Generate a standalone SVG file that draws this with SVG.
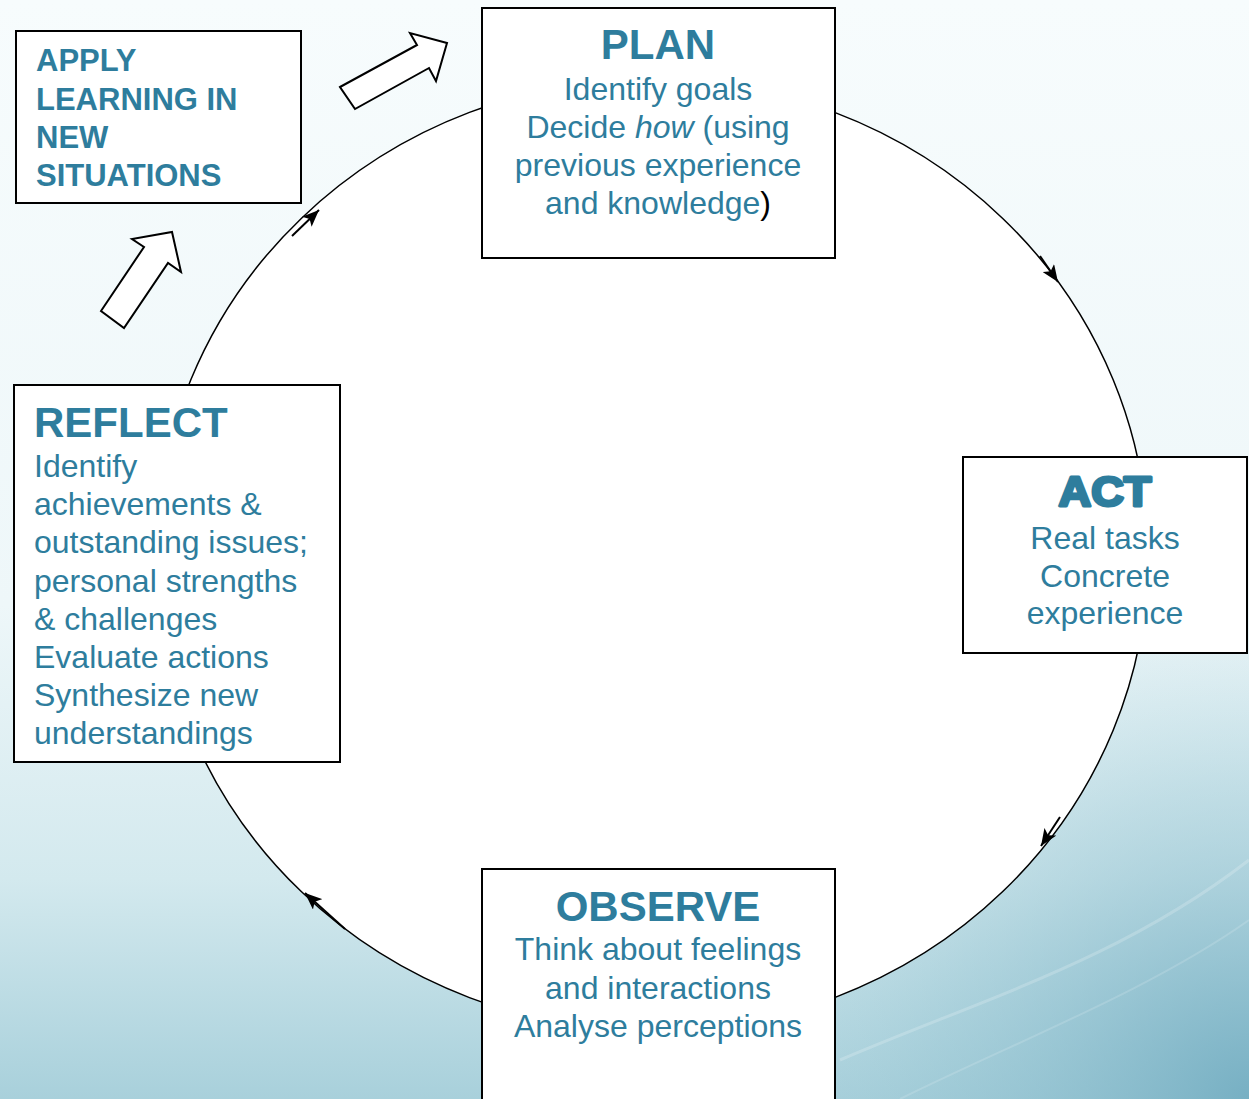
<svg xmlns="http://www.w3.org/2000/svg" width="1249" height="1099" viewBox="0 0 1249 1099">
<defs>
  <linearGradient id="bg" x1="0" y1="0" x2="0" y2="1">
    <stop offset="0" stop-color="#f7fcfd"/>
    <stop offset="0.55" stop-color="#eef7f9"/>
    <stop offset="0.8" stop-color="#d3e9ee"/>
    <stop offset="1" stop-color="#a8d0db"/>
  </linearGradient>
  <radialGradient id="br" cx="1249" cy="1099" r="520" gradientUnits="userSpaceOnUse">
    <stop offset="0" stop-color="#6eaabf" stop-opacity="0.85"/>
    <stop offset="0.6" stop-color="#8fc0cf" stop-opacity="0.35"/>
    <stop offset="1" stop-color="#b0d5df" stop-opacity="0"/>
  </radialGradient>
  <marker id="ah" markerUnits="userSpaceOnUse" markerWidth="18" markerHeight="14" refX="17" refY="7" orient="auto">
    <path d="M0,0 L17,7 L0,14 L4,7 z" fill="#000"/>
  </marker>
  <style>
    .box{fill:#fff;stroke:#000;stroke-width:2}
    .t{font-family:"Liberation Sans",Arial,sans-serif;fill:#2e7d9d}
    .h{font-weight:bold;font-size:42px}
    .b{font-size:32px}
    .c{text-anchor:middle}
    .blk{fill:#fff;stroke:#000;stroke-width:2;stroke-linejoin:miter}
    .arc{fill:none;stroke:#000;stroke-width:2}
  </style>
</defs>
<rect x="0" y="0" width="1249" height="1099" fill="url(#bg)"/>
<rect x="0" y="0" width="1249" height="1099" fill="url(#br)"/>
<path d="M840,1060 C980,1000 1120,960 1249,860" fill="none" stroke="#ffffff" stroke-opacity="0.2" stroke-width="3"/>
<path d="M900,1099 C1020,1040 1150,990 1249,920" fill="none" stroke="#ffffff" stroke-opacity="0.15" stroke-width="2"/>

<g id="connectors">
  <ellipse cx="652" cy="555" rx="496" ry="476" fill="#fff" stroke="#000" stroke-width="1.5"/>
  <line class="arc" x1="1040" y1="256" x2="1058" y2="282" marker-end="url(#ah)"/>
  <line class="arc" x1="1060" y1="817" x2="1041" y2="846" marker-end="url(#ah)"/>
  <line class="arc" x1="345" y1="929" x2="305" y2="893" marker-end="url(#ah)"/>
  <line class="arc" x1="292" y1="236" x2="319" y2="210" marker-end="url(#ah)"/>
  <polygon class="blk" points="340,87 417,45 410,33 447,43 436,81 429,68 355,109"/>
  <polygon class="blk" points="101,311 144,247 132,239 172,232 181,272 168,263 124,328"/>
</g>

<g id="apply">
  <rect class="box" x="16" y="31" width="285" height="172"/>
  <text class="t" font-weight="bold" font-size="31" x="36" y="71">APPLY</text>
  <text class="t" font-weight="bold" font-size="31" x="36" y="110">LEARNING IN</text>
  <text class="t" font-weight="bold" font-size="31" x="36" y="148">NEW</text>
  <text class="t" font-weight="bold" font-size="31" x="36" y="186">SITUATIONS</text>
</g>

<g id="plan">
  <rect class="box" x="482" y="8" width="353" height="250"/>
  <text class="t h c" x="658" y="59">PLAN</text>
  <text class="t b c" x="658" y="100">Identify goals</text>
  <text class="t b c" x="658" y="138">Decide <tspan font-style="italic">how</tspan> (using</text>
  <text class="t b c" x="658" y="176">previous experience</text>
  <text class="t b c" x="658" y="214">and knowledge<tspan fill="#000">)</tspan></text>
</g>

<g id="act">
  <rect class="box" x="963" y="457" width="284" height="196"/>
  <text class="t c" x="1105" y="506" font-weight="bold" font-size="42" stroke="#2e7d9d" stroke-width="3" stroke-linejoin="round" textLength="93" lengthAdjust="spacingAndGlyphs">ACT</text>
  <text class="t b c" x="1105" y="549">Real tasks</text>
  <text class="t b c" x="1105" y="587">Concrete</text>
  <text class="t b c" x="1105" y="624">experience</text>
</g>

<g id="observe">
  <rect class="box" x="482" y="869" width="353" height="240"/>
  <text class="t h c" x="658" y="921">OBSERVE</text>
  <text class="t b c" x="658" y="960">Think about feelings</text>
  <text class="t b c" x="658" y="999">and interactions</text>
  <text class="t b c" x="658" y="1037">Analyse perceptions</text>
</g>

<g id="reflect">
  <rect class="box" x="14" y="385" width="326" height="377"/>
  <text class="t h" x="34" y="437">REFLECT</text>
  <text class="t b" x="34" y="477">Identify</text>
  <text class="t b" x="34" y="515">achievements &amp;</text>
  <text class="t b" x="34" y="553">outstanding issues;</text>
  <text class="t b" x="34" y="592">personal strengths</text>
  <text class="t b" x="34" y="630">&amp; challenges</text>
  <text class="t b" x="34" y="668">Evaluate actions</text>
  <text class="t b" x="34" y="706">Synthesize new</text>
  <text class="t b" x="34" y="744">understandings</text>
</g>
</svg>
